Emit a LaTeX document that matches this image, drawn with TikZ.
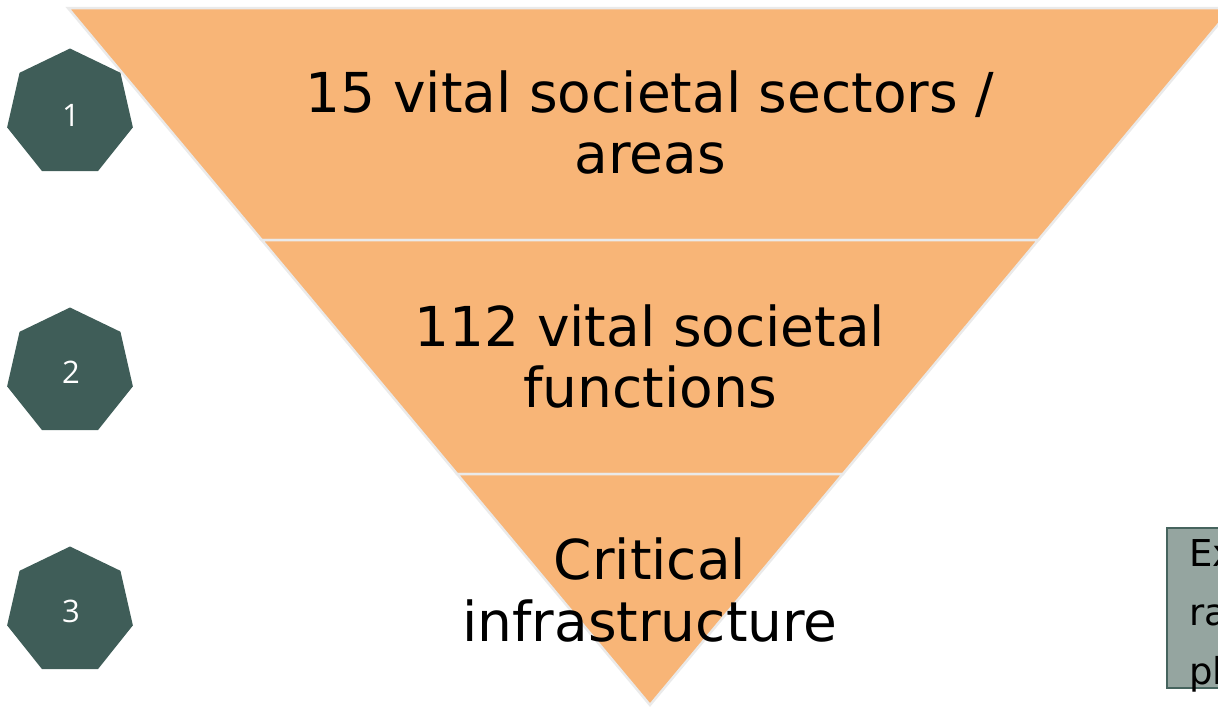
\documentclass[tikz,border=0pt]{standalone}
\usepackage{fontspec}
\setmainfont{DejaVu Sans}
\newfontfamily\digitfont{Open Sans}
\usetikzlibrary{shapes.geometric}
\definecolor{segfill}{HTML}{F8B577}
\definecolor{segline}{HTML}{EAEAEA}
\definecolor{heptfill}{HTML}{3F5D58}
\definecolor{boxfill}{HTML}{95A5A0}
\definecolor{boxline}{HTML}{46645E}
\tikzset{
  seg/.style={fill=segfill, draw=segline, line width=2.5pt, line join=miter},
  segtext/.style={anchor=base, inner sep=0pt, font=\fontsize{55}{61}\selectfont, text=black},
  hept/.style={regular polygon, regular polygon sides=7, fill=heptfill, draw=none,
    minimum size=129pt, inner sep=0pt},
  heptnum/.style={anchor=base, inner sep=0pt, text=white, font=\digitfont\fontsize{31}{34}\selectfont},
  sidebox/.style={fill=boxfill, draw=boxline, line width=2.5pt},
  boxtext/.style={anchor=base west, inner sep=0pt, font=\fontsize{37}{42}\selectfont, text=black}
}
\begin{document}
\begin{tikzpicture}[x=1pt, y=-1pt]
\useasboundingbox (0,0) rectangle (1218,707);
\clip (0,0) rectangle (1218,707);
% segments of the inverted triangle
\path[seg] (68,8) -- (1232,8) -- (1038.3,240) -- (261.7,240) -- cycle;
\path[seg] (261.7,240) -- (1038.3,240) -- (842.9,474) -- (457.1,474) -- cycle;
\path[seg] (457.1,474) -- (842.9,474) -- (650,705) -- cycle;
% texts
\node[segtext] (t1a) at (650,112) {15 vital societal sectors /};
\node[segtext] (t1b) at (650,173) {areas};
\node[segtext] (t2a) at (650,346) {112 vital societal};
\node[segtext] (t2b) at (650,407) {functions};
\node[segtext] (t3a) at (650,579) {Critical};
\node[segtext] (t3b) at (650,641) {infrastructure};
% heptagons
\node[hept] (h1) at (70,113) {};
\node[hept] (h2) at (70,372) {};
\node[hept] (h3) at (70,611) {};
\node[heptnum] (n1) at (71,126) {1};
\node[heptnum] (n2) at (71,383) {2};
\node[heptnum] (n3) at (71,622) {3};
% side box
\path[sidebox] (1167,528) rectangle (1300,688);
\node[boxtext] (b1) at (1189,566) {Ex};
\node[boxtext] (b2) at (1189,625) {ra};
\node[boxtext] (b3) at (1189,684) {pl};
\end{tikzpicture}
\end{document}
